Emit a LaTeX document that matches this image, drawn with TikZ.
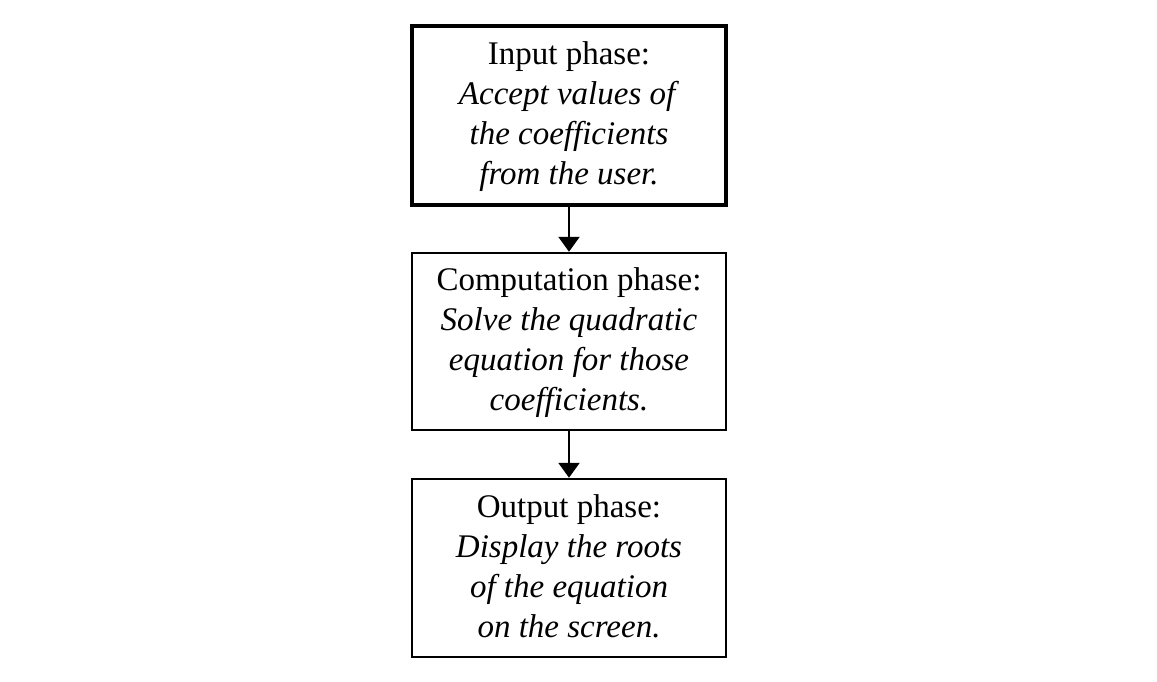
\documentclass[tikz,border=0pt]{standalone}
\usepackage{fontspec}
\setmainfont{Liberation Serif}
\usetikzlibrary{arrows.meta}
\newcommand{\phtop}{\rule{0pt}{25pt}}
\newcommand{\phbot}{\rule[-7pt]{0pt}{7pt}}
\begin{document}
\begin{tikzpicture}[x=1pt,y=-1pt,
  phasebox/.style={draw=black, line width=2.5pt, minimum width=314pt, minimum height=178pt,
    align=center, inner sep=0pt, font=\fontsize{33}{40}\selectfont},
  flow/.style={line width=2.5pt, -{Triangle[width=21pt,length=15pt]}}]
\useasboundingbox (0,0) rectangle (1157,682);
\node[phasebox, line width=3.3pt, minimum height=179pt] (in) at (569,115.5) {\phtop Input phase:\\\textit{Accept values of}\\\textit{the coefficients}\\\textit{from the user.}\phbot};
\node[phasebox, minimum height=177pt] (comp) at (569,341.5) {\phtop Computation phase:\\\textit{Solve the quadratic}\\\textit{equation for those}\\\textit{coefficients.}\phbot};
\node[phasebox] (out) at (569,568) {\phtop Output phase:\\\textit{Display the roots}\\\textit{of the equation}\\\textit{on the screen.}\phbot};
\draw[flow] (in.south) -- (comp.north);
\draw[flow] (comp.south) -- (out.north);
\end{tikzpicture}
\end{document}
